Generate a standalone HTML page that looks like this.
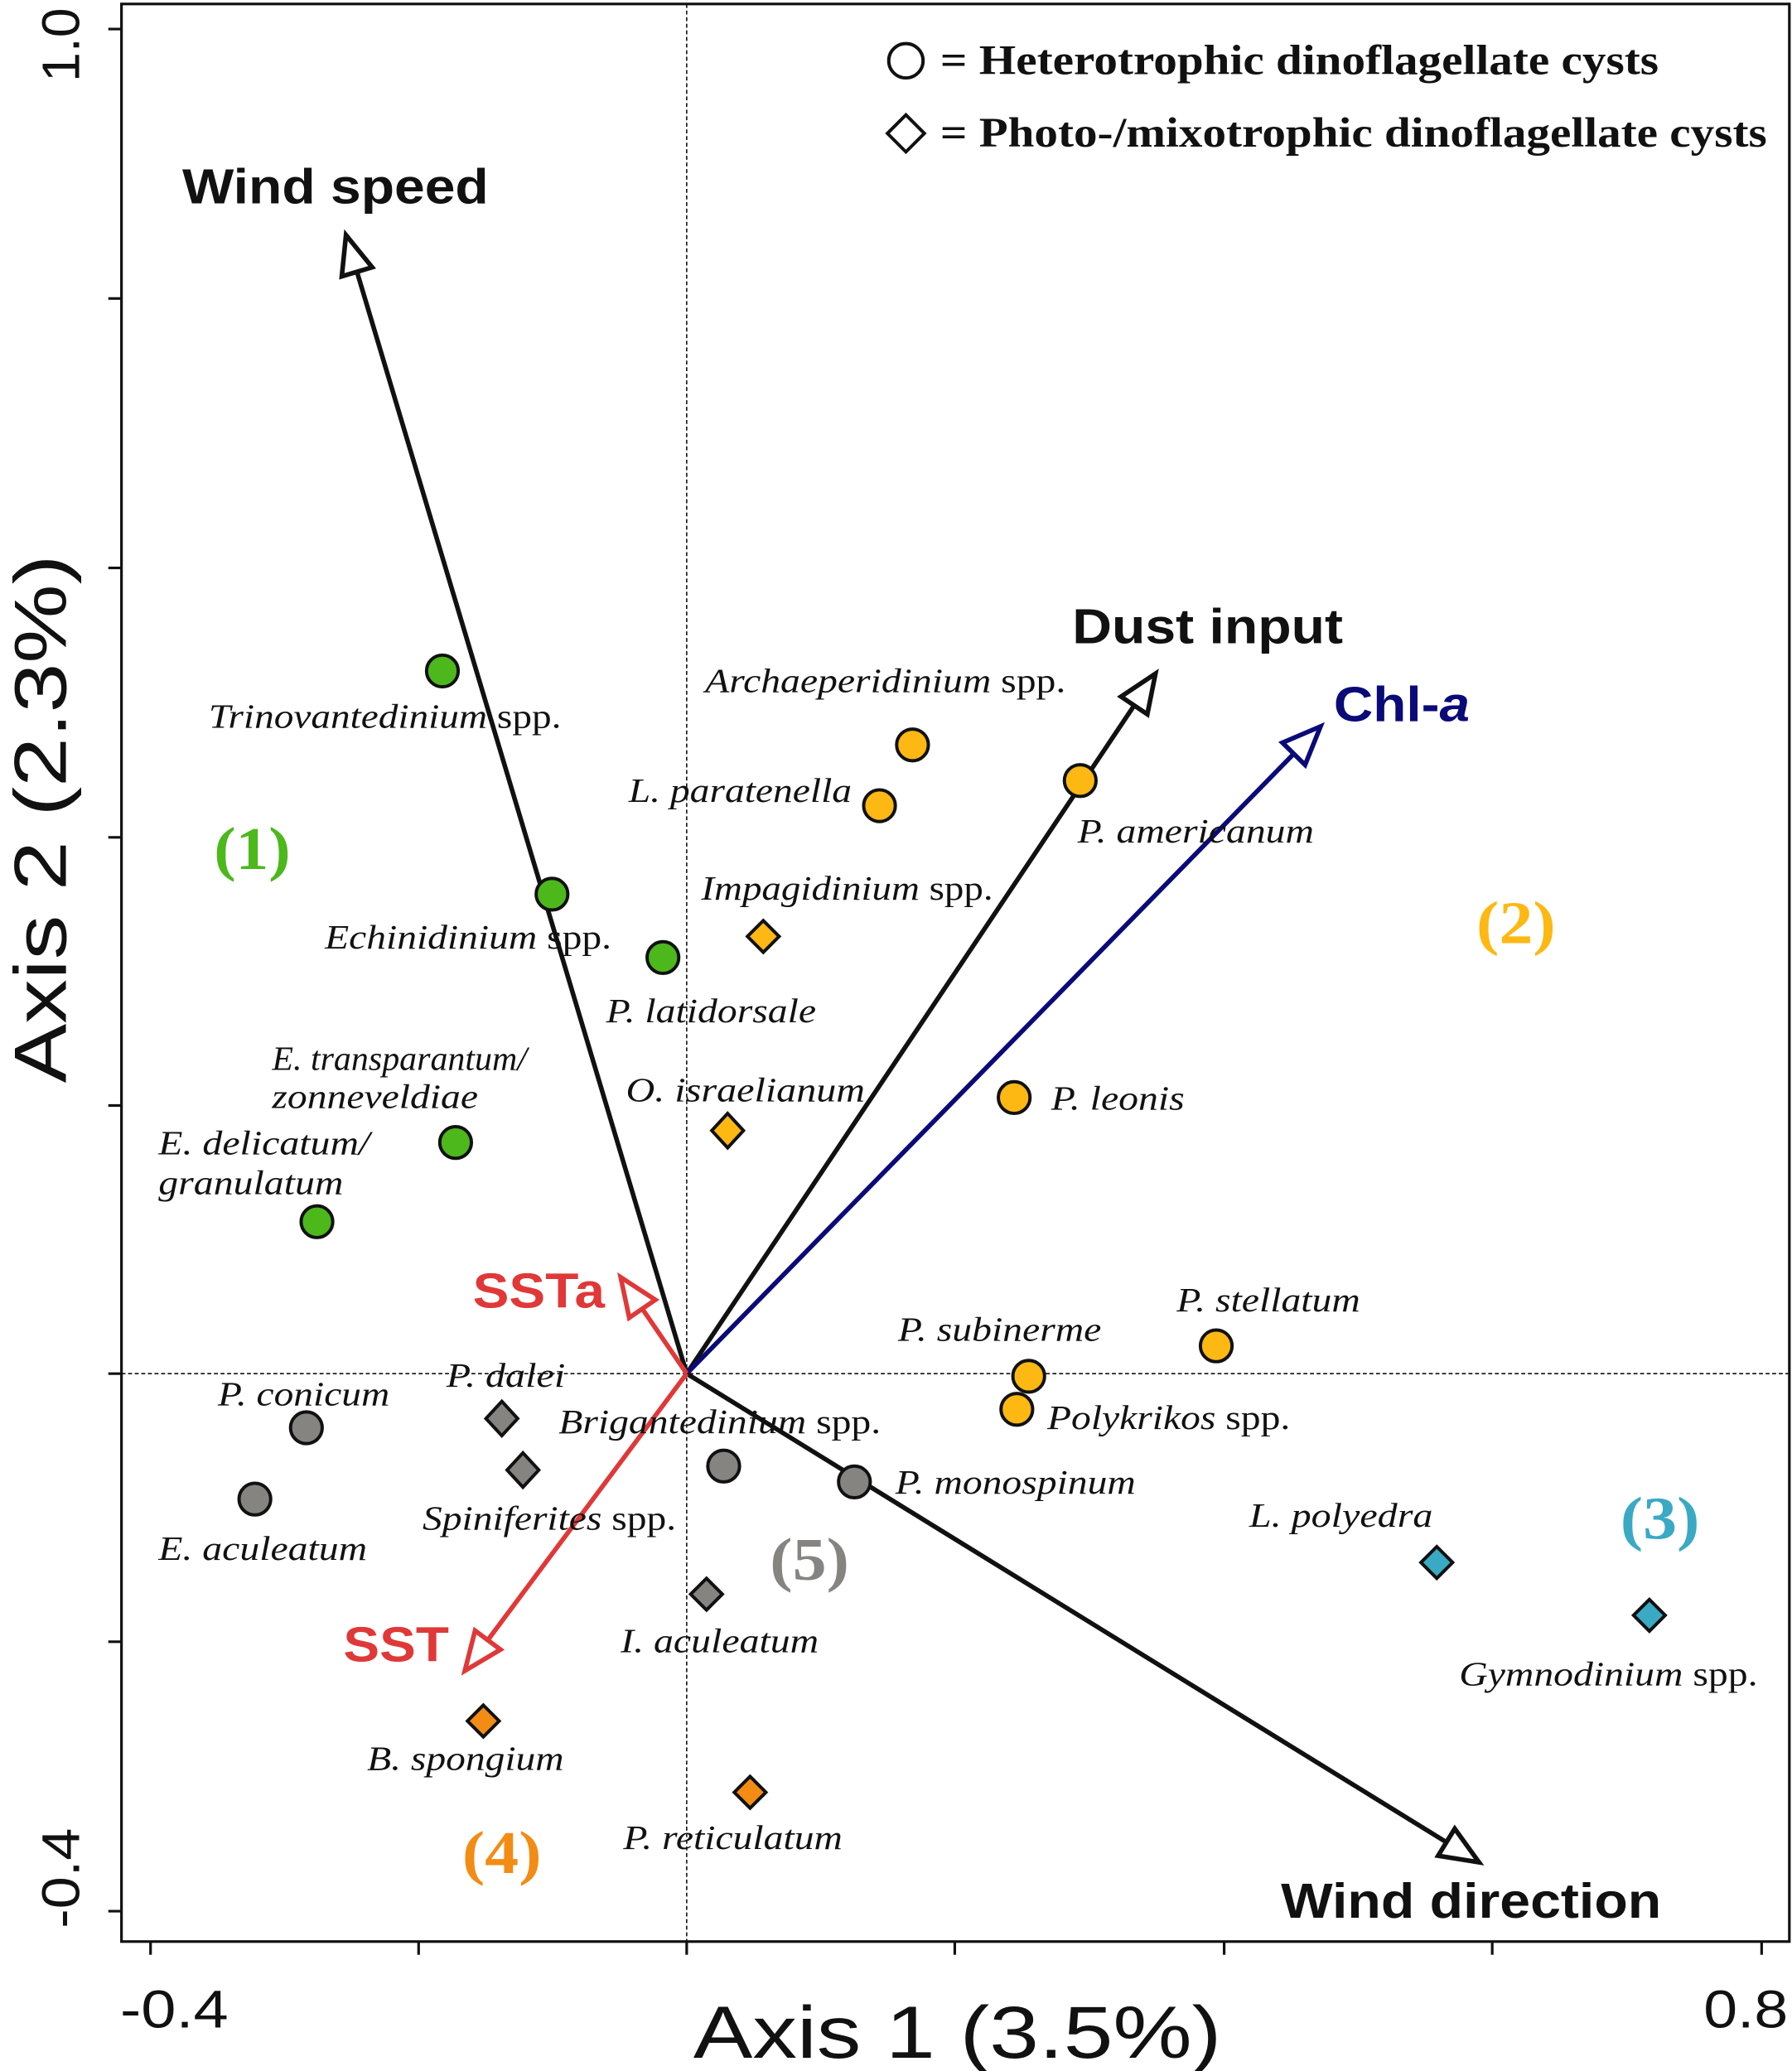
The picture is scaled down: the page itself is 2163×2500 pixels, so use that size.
<!DOCTYPE html>
<html><head><meta charset="utf-8"><style>
html,body{margin:0;padding:0;background:#fff}
svg{display:block}
.sp{font-family:"Liberation Serif",serif;font-style:italic;font-size:26px;fill:#111}
.n{font-style:normal}
.ar{font-family:"Liberation Sans",sans-serif;font-weight:bold;font-size:37px}
.grp{font-family:"Liberation Serif",serif;font-weight:bold;font-size:46px}
</style></head><body>
<svg width="2163" height="2500" viewBox="0 0 1357 1568" preserveAspectRatio="none" xmlns="http://www.w3.org/2000/svg">
<defs>
<marker id="mk" markerUnits="userSpaceOnUse" markerWidth="40" markerHeight="34" refX="32" refY="15" orient="auto" viewBox="0 0 40 34"><path d="M3,3 L32,15 L3,27 Z" fill="#fff" stroke="#111" stroke-width="3.5"/></marker>
<marker id="mb" markerUnits="userSpaceOnUse" markerWidth="40" markerHeight="34" refX="32" refY="15" orient="auto" viewBox="0 0 40 34"><path d="M3,3 L32,15 L3,27 Z" fill="#fff" stroke="#0a0a78" stroke-width="3.5"/></marker>
<marker id="mr" markerUnits="userSpaceOnUse" markerWidth="40" markerHeight="34" refX="32" refY="15" orient="auto" viewBox="0 0 40 34"><path d="M3,3 L32,15 L3,27 Z" fill="#fff" stroke="#e03838" stroke-width="3.5"/></marker>
</defs>
<rect x="92" y="3" width="1263" height="1467" fill="none" stroke="#111" stroke-width="2"/>
<g stroke="#111" stroke-width="2">
<line x1="114" y1="1470" x2="114" y2="1480"/><line x1="317" y1="1470" x2="317" y2="1480"/><line x1="520" y1="1470" x2="520" y2="1480"/><line x1="723" y1="1470" x2="723" y2="1480"/><line x1="927" y1="1470" x2="927" y2="1480"/><line x1="1130" y1="1470" x2="1130" y2="1480"/><line x1="1334" y1="1470" x2="1334" y2="1480"/>
<line x1="82" y1="22" x2="92" y2="22"/><line x1="82" y1="226" x2="92" y2="226"/><line x1="82" y1="430" x2="92" y2="430"/><line x1="82" y1="634" x2="92" y2="634"/><line x1="82" y1="837" x2="92" y2="837"/><line x1="82" y1="1040" x2="92" y2="1040"/><line x1="82" y1="1243" x2="92" y2="1243"/><line x1="82" y1="1447" x2="92" y2="1447"/>
</g>
<g stroke="#111" stroke-width="1" stroke-dasharray="3,2">
<line x1="520" y1="3" x2="520" y2="1470"/><line x1="92" y1="1040" x2="1355" y2="1040"/>
</g>
<g font-family="Liberation Sans,sans-serif" font-size="40" fill="#111">
<text x="132" y="1535" text-anchor="middle" textLength="82" lengthAdjust="spacingAndGlyphs">-0.4</text>
<text x="1322" y="1535" text-anchor="middle" textLength="64" lengthAdjust="spacingAndGlyphs">0.8</text>
<text transform="translate(60,34) rotate(-90)" text-anchor="middle" textLength="56" lengthAdjust="spacingAndGlyphs">1.0</text>
<text transform="translate(60,1422) rotate(-90)" text-anchor="middle" textLength="76" lengthAdjust="spacingAndGlyphs">-0.4</text>
<text x="725" y="1558" text-anchor="middle" font-size="56" textLength="400" lengthAdjust="spacingAndGlyphs">Axis 1 (3.5%)</text>
<text transform="translate(50,620) rotate(-90)" text-anchor="middle" font-size="56" textLength="400" lengthAdjust="spacingAndGlyphs">Axis 2 (2.3%)</text>
</g>
<g stroke-width="3.5" fill="none">
<line x1="520" y1="1040" x2="262" y2="178" stroke="#111" marker-end="url(#mk)"/>
<line x1="520" y1="1040" x2="875" y2="510" stroke="#111" marker-end="url(#mk)"/>
<line x1="520" y1="1040" x2="1000" y2="550" stroke="#0a0a78" marker-end="url(#mb)"/>
<line x1="520" y1="1040" x2="1120" y2="1410" stroke="#111" marker-end="url(#mk)"/>
<line x1="520" y1="1040" x2="470" y2="967" stroke="#e03838" marker-end="url(#mr)"/>
<line x1="520" y1="1040" x2="352" y2="1265" stroke="#e03838" marker-end="url(#mr)"/>
</g>
<g class="ar">
<text x="138" y="154" fill="#111" textLength="232" lengthAdjust="spacingAndGlyphs">Wind speed</text>
<text x="812" y="487" fill="#111" textLength="205" lengthAdjust="spacingAndGlyphs">Dust input</text>
<text x="1010" y="546" fill="#0a0a78" textLength="103" lengthAdjust="spacingAndGlyphs">Chl-<tspan font-style="italic">a</tspan></text>
<text x="970" y="1452" fill="#111" textLength="288" lengthAdjust="spacingAndGlyphs">Wind direction</text>
<text x="358" y="990" fill="#e03838" textLength="100" lengthAdjust="spacingAndGlyphs">SSTa</text>
<text x="260" y="1258" fill="#e03838" textLength="80" lengthAdjust="spacingAndGlyphs">SST</text>
</g>
<circle cx="686" cy="46" r="13" fill="#fff" stroke="#111" stroke-width="2.5"/>
<path d="M686,87 L700,101 L686,115 L672,101 Z" fill="#fff" stroke="#111" stroke-width="2.5"/>
<g font-family="Liberation Serif,serif" font-weight="bold" font-size="32" fill="#111">
<text x="712" y="56" textLength="544" lengthAdjust="spacingAndGlyphs">= Heterotrophic dinoflagellate cysts</text>
<text x="712" y="111" textLength="626" lengthAdjust="spacingAndGlyphs">= Photo-/mixotrophic dinoflagellate cysts</text>
</g>
<g stroke="#111" stroke-width="2.5">
<g fill="#4cb81c">
<circle cx="335" cy="508" r="12"/><circle cx="418" cy="677" r="12"/><circle cx="502" cy="725" r="12"/><circle cx="345" cy="865" r="12"/><circle cx="240" cy="925" r="12"/>
</g>
<g fill="#fdb813">
<circle cx="691" cy="564" r="12"/><circle cx="666" cy="610" r="12"/><circle cx="818" cy="591" r="12"/><circle cx="768" cy="831" r="12"/><circle cx="921" cy="1019" r="12"/><circle cx="779" cy="1042" r="12"/><circle cx="770" cy="1067" r="12"/>
<path d="M578,697 L590,709 L578,721 L566,709 Z"/><path d="M551,843 L563,856 L551,869 L539,856 Z"/>
</g>
<g fill="#858480">
<circle cx="232" cy="1081" r="12"/><circle cx="193" cy="1135" r="12"/><circle cx="548" cy="1110" r="12"/><circle cx="647" cy="1122" r="12"/>
<path d="M380,1061 L392,1074 L380,1087 L368,1074 Z"/><path d="M396,1100 L408,1113 L396,1126 L384,1113 Z"/><path d="M535,1195 L547,1207 L535,1219 L523,1207 Z"/>
</g>
<g fill="#f28c14">
<path d="M366,1291 L378,1303 L366,1315 L354,1303 Z"/><path d="M568,1345 L580,1357 L568,1369 L556,1357 Z"/>
</g>
<g fill="#3aa9c4">
<path d="M1088,1171 L1100,1183 L1088,1195 L1076,1183 Z"/><path d="M1249,1211 L1261,1223 L1249,1235 L1237,1223 Z"/>
</g>
</g>
<g class="sp">
<text x="158" y="551" textLength="267" lengthAdjust="spacingAndGlyphs">Trinovantedinium<tspan class="n"> spp.</tspan></text>
<text x="246" y="718" textLength="217" lengthAdjust="spacingAndGlyphs">Echinidinium<tspan class="n"> spp.</tspan></text>
<text x="459" y="774" textLength="159" lengthAdjust="spacingAndGlyphs">P. latidorsale</text>
<text x="206" y="810" textLength="193" lengthAdjust="spacingAndGlyphs">E. transparantum/</text>
<text x="206" y="839" textLength="156" lengthAdjust="spacingAndGlyphs">zonneveldiae</text>
<text x="120" y="874" textLength="160" lengthAdjust="spacingAndGlyphs">E. delicatum/</text>
<text x="120" y="904" textLength="140" lengthAdjust="spacingAndGlyphs">granulatum</text>
<text x="534" y="524" textLength="273" lengthAdjust="spacingAndGlyphs">Archaeperidinium<tspan class="n"> spp.</tspan></text>
<text x="476" y="607" textLength="169" lengthAdjust="spacingAndGlyphs">L. paratenella</text>
<text x="816" y="638" textLength="179" lengthAdjust="spacingAndGlyphs">P. americanum</text>
<text x="531" y="681" textLength="221" lengthAdjust="spacingAndGlyphs">Impagidinium<tspan class="n"> spp.</tspan></text>
<text x="474" y="834" textLength="181" lengthAdjust="spacingAndGlyphs">O. israelianum</text>
<text x="796" y="840" textLength="101" lengthAdjust="spacingAndGlyphs">P. leonis</text>
<text x="891" y="993" textLength="139" lengthAdjust="spacingAndGlyphs">P. stellatum</text>
<text x="680" y="1015" textLength="154" lengthAdjust="spacingAndGlyphs">P. subinerme</text>
<text x="793" y="1082" textLength="184" lengthAdjust="spacingAndGlyphs">Polykrikos<tspan class="n"> spp.</tspan></text>
<text x="678" y="1131" textLength="182" lengthAdjust="spacingAndGlyphs">P. monospinum</text>
<text x="165" y="1064" textLength="130" lengthAdjust="spacingAndGlyphs">P. conicum</text>
<text x="338" y="1050" textLength="90" lengthAdjust="spacingAndGlyphs">P. dalei</text>
<text x="423" y="1085" textLength="244" lengthAdjust="spacingAndGlyphs">Brigantedinium<tspan class="n"> spp.</tspan></text>
<text x="320" y="1158" textLength="192" lengthAdjust="spacingAndGlyphs">Spiniferites<tspan class="n"> spp.</tspan></text>
<text x="120" y="1181" textLength="158" lengthAdjust="spacingAndGlyphs">E. aculeatum</text>
<text x="470" y="1251" textLength="150" lengthAdjust="spacingAndGlyphs">I. aculeatum</text>
<text x="278" y="1340" textLength="149" lengthAdjust="spacingAndGlyphs">B. spongium</text>
<text x="472" y="1400" textLength="166" lengthAdjust="spacingAndGlyphs">P. reticulatum</text>
<text x="946" y="1156" textLength="139" lengthAdjust="spacingAndGlyphs">L. polyedra</text>
<text x="1105" y="1276" textLength="226" lengthAdjust="spacingAndGlyphs">Gymnodinium<tspan class="n"> spp.</tspan></text>
</g>
<g class="grp">
<text x="162" y="658" fill="#4cb81c" textLength="58" lengthAdjust="spacingAndGlyphs">(1)</text>
<text x="1118" y="714" fill="#fdb813" textLength="60" lengthAdjust="spacingAndGlyphs">(2)</text>
<text x="1227" y="1165" fill="#3aa9c4" textLength="60" lengthAdjust="spacingAndGlyphs">(3)</text>
<text x="350" y="1418" fill="#f28c14" textLength="60" lengthAdjust="spacingAndGlyphs">(4)</text>
<text x="583" y="1196" fill="#858480" textLength="60" lengthAdjust="spacingAndGlyphs">(5)</text>
</g>
</svg>
</body></html>
